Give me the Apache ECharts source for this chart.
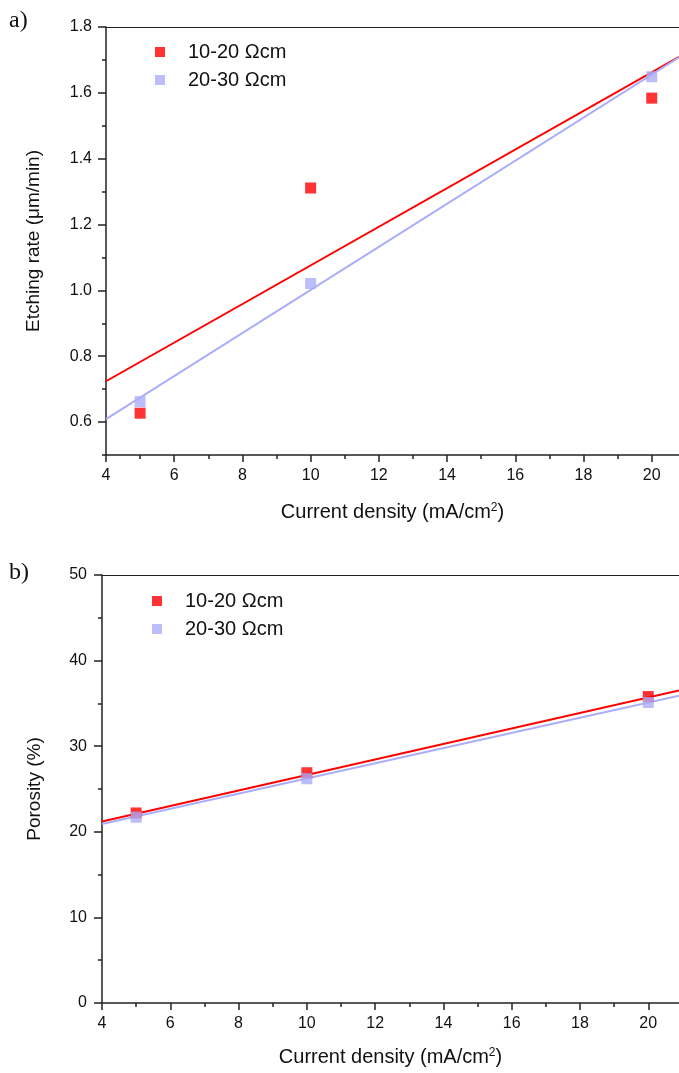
<!DOCTYPE html>
<html>
<head>
<meta charset="utf-8">
<script src="https://cdn.jsdelivr.net/npm/echarts@6/dist/echarts.min.js"></script>
<style>
html,body{margin:0;padding:0;background:#fff;}
#c{width:679px;height:1073px;}
</style>
</head>
<body>
<div id="c"></div>
<script>
// ---- data ----
const seriesNames = ['10-20 Ωcm', '20-30 Ωcm'];
const xValues = [5, 10, 20];
// panel a: etching rate (µm/min)
const etchLow = [0.627, 1.311, 1.584];
const etchHigh = [0.662, 1.021, 1.649];
const etchFitLow = [[4, 0.724], [20.8, 1.709]];
const etchFitHigh = [[4, 0.609], [20.8, 1.708]];
// panel b: porosity (%)
const porLow = [22.2, 26.9, 35.8];
const porHigh = [21.7, 26.2, 35.1];
const porFitLow = [[4, 21.2], [20.9, 36.5]];
const porFitHigh = [[4, 20.9], [20.9, 35.9]];
// tick values
const xMajor = [4, 6, 8, 10, 12, 14, 16, 18, 20];
const xMinor = [5, 7, 9, 11, 13, 15, 17, 19];
const yMajorA = [0.6, 0.8, 1.0, 1.2, 1.4, 1.6, 1.8];
const yMinorA = [0.5, 0.7, 0.9, 1.1, 1.3, 1.5, 1.7];
const yMajorB = [0, 10, 20, 30, 40, 50];
const yMinorB = [5, 15, 25, 35, 45];

const RED = '#ff0000';
const BLUE = '#aaaefa';
const AX = '#222';
const FONT = 'Liberation Sans';

const pair = (xs, ys) => xs.map((x, i) => [x, ys[i]]);

function xAxes(grid, max, margin, nameGap) {
  return [
    {
      type: 'value', gridIndex: grid, position: 'bottom', min: 4, max: max, interval: 2,
      axisLine: { lineStyle: { color: AX, width: 1.5 } },
      axisTick: { show: true, length: 7, customValues: xMajor, lineStyle: { color: AX, width: 1.5 } },
      axisLabel: { customValues: xMajor, margin: margin, fontFamily: FONT, fontSize: 16, color: '#111' },
      splitLine: { show: false },
      name: 'Current density (mA/cm{sup|2})',
      nameLocation: 'middle', nameGap: nameGap,
      nameTextStyle: { fontFamily: FONT, fontSize: 20, color: '#111',
        rich: { sup: { fontFamily: FONT, fontSize: 12, verticalAlign: 'top', padding: [0, 0, 9, 0], color: '#111' } } }
    },
    {
      type: 'value', gridIndex: grid, position: 'bottom', min: 4, max: max, interval: 1,
      axisLine: { show: false },
      axisTick: { show: true, length: 4, customValues: xMinor, lineStyle: { color: AX, width: 1.5 } },
      axisLabel: { show: false }, splitLine: { show: false }
    },
    {
      type: 'value', gridIndex: grid, position: 'top', min: 4, max: max,
      axisLine: { show: true, onZero: false, lineStyle: { color: AX, width: 1.2 } },
      axisTick: { show: false }, axisLabel: { show: false }, splitLine: { show: false }
    }
  ];
}

function yAxes(grid, min, max, major, minor, fmt, name, nameGap, margin) {
  return [
    {
      type: 'value', gridIndex: grid, min: min, max: max,
      axisLine: { show: true, onZero: false, lineStyle: { color: AX, width: 1.5 } },
      axisTick: { show: true, length: 8, customValues: major, lineStyle: { color: AX, width: 1.5 } },
      axisLabel: { customValues: major, formatter: fmt, margin: margin, fontFamily: FONT, fontSize: 16, color: '#111' },
      splitLine: { show: false },
      name: name, nameLocation: 'middle', nameGap: nameGap, nameRotate: 90,
      nameTextStyle: { fontFamily: FONT, fontSize: 19, color: '#111' }
    },
    {
      type: 'value', gridIndex: grid, min: min, max: max, position: 'left',
      axisLine: { show: false },
      axisTick: { show: true, length: 4, customValues: minor, lineStyle: { color: AX, width: 1.5 } },
      axisLabel: { show: false }, splitLine: { show: false }
    }
  ];
}

const chart = echarts.init(document.getElementById('c'), null, { renderer: 'canvas' });

const option = {
  animation: false,
  backgroundColor: '#fff',
  grid: [
    { left: 106, top: 27, width: 573, height: 428 },
    { left: 102, top: 575, width: 577, height: 428 }
  ],
  xAxis: [].concat(xAxes(0, 20.8, 13, 47), xAxes(1, 20.9, 13, 44)),
  yAxis: [].concat(
    yAxes(0, 0.5, 1.8, yMajorA, yMinorA, v => v.toFixed(1), 'Etching rate (μm/min)', 63, 14),
    yAxes(1, 0, 50, yMajorB, yMinorB, v => String(v), 'Porosity (%)', 58, 15)
  ),
  legend: [
    {
      data: seriesNames, orient: 'vertical', left: 150, top: 37, itemGap: 8,
      itemWidth: 10, itemHeight: 10, icon: 'rect',
      textStyle: { fontFamily: FONT, fontSize: 20, color: '#111', padding: [0, 0, 0, 18] }
    },
    {
      data: seriesNames, orient: 'vertical', left: 147, top: 586, itemGap: 8,
      itemWidth: 10, itemHeight: 10, icon: 'rect',
      textStyle: { fontFamily: FONT, fontSize: 20, color: '#111', padding: [0, 0, 0, 18] }
    }
  ],
  series: [
    { type: 'line', name: 'fitA1', xAxisIndex: 0, yAxisIndex: 0, data: etchFitLow, showSymbol: false,
      lineStyle: { color: RED, width: 2 }, z: 2, silent: true },
    { type: 'line', name: 'fitA2', xAxisIndex: 0, yAxisIndex: 0, data: etchFitHigh, showSymbol: false,
      lineStyle: { color: BLUE, width: 2 }, z: 2, silent: true },
    { type: 'scatter', name: seriesNames[0], xAxisIndex: 0, yAxisIndex: 0, data: pair(xValues, etchLow),
      symbol: 'rect', symbolSize: 11, itemStyle: { color: RED }, z: 3 },
    { type: 'scatter', name: seriesNames[1], xAxisIndex: 0, yAxisIndex: 0, data: pair(xValues, etchHigh),
      symbol: 'rect', symbolSize: 11, itemStyle: { color: BLUE }, z: 4 },

    { type: 'line', name: 'fitB1', xAxisIndex: 3, yAxisIndex: 2, data: porFitLow, showSymbol: false,
      lineStyle: { color: RED, width: 2 }, z: 2, silent: true },
    { type: 'line', name: 'fitB2', xAxisIndex: 3, yAxisIndex: 2, data: porFitHigh, showSymbol: false,
      lineStyle: { color: BLUE, width: 2 }, z: 2, silent: true },
    { type: 'scatter', name: seriesNames[0], xAxisIndex: 3, yAxisIndex: 2, data: pair(xValues, porLow),
      symbol: 'rect', symbolSize: 11, itemStyle: { color: RED }, z: 3 },
    { type: 'scatter', name: seriesNames[1], xAxisIndex: 3, yAxisIndex: 2, data: pair(xValues, porHigh),
      symbol: 'rect', symbolSize: 11, itemStyle: { color: BLUE }, z: 4 }
  ],
  graphic: [
    { type: 'text', left: 9, top: 9, style: { text: 'a)', font: '24px "Liberation Serif", serif', fill: '#111' } },
    { type: 'text', left: 9, top: 561, style: { text: 'b)', font: '24px "Liberation Serif", serif', fill: '#111' } }
  ]
};
chart.setOption(option);
</script>
</body>
</html>
